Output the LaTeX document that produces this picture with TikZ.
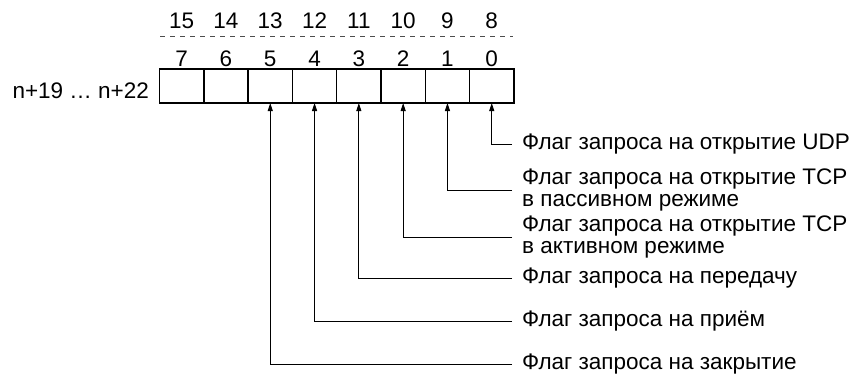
\documentclass[tikz,border=0pt]{standalone}
\usepackage{fontspec}
\setmainfont{Liberation Sans}
\usetikzlibrary{arrows.meta, positioning}

\begin{document}
\begin{tikzpicture}[
  x=1pt, y=-1pt,
  font=\fontsize{22.5}{22}\selectfont,
  cell/.style={draw, line width=1.4pt, minimum width=44.3pt, minimum height=34pt,
               outer sep=0pt, inner sep=0pt},
  bitnum/.style={inner sep=0pt},
  flag/.style={anchor=west, align=left, inner xsep=10pt, inner ysep=0pt},
  arr/.style={-{Triangle[length=8pt, width=5pt]}, line width=1pt},
  sep/.style={dash pattern=on 5pt off 5pt, line width=0.8pt, black!70},
  node distance=0pt
]
\useasboundingbox (0,0) rectangle (855,375);
% register cells, bit 7 on the left
\node[cell] (b7) at (181.65,86) {};
\node[cell, right=of b7] (b6) {};
\node[cell, right=of b6] (b5) {};
\node[cell, right=of b5] (b4) {};
\node[cell, right=of b4] (b3) {};
\node[cell, right=of b3] (b2) {};
\node[cell, right=of b2] (b1) {};
\node[cell, right=of b1] (b0) {};
\node[anchor=base west] (addr) at (9,98) {n+19 … n+22};
% bit numbers
\node[bitnum, above=2pt of b7] (n7) {7};
\node[bitnum, above=2pt of b6] (n6) {6};
\node[bitnum, above=2pt of b5] (n5) {5};
\node[bitnum, above=2pt of b4] (n4) {4};
\node[bitnum, above=2pt of b3] (n3) {3};
\node[bitnum, above=2pt of b2] (n2) {2};
\node[bitnum, above=2pt of b1] (n1) {1};
\node[bitnum, above=2pt of b0] (n0) {0};
\node[bitnum, above=40pt of b7] (n15) {15};
\node[bitnum, above=40pt of b6] (n14) {14};
\node[bitnum, above=40pt of b5] (n13) {13};
\node[bitnum, above=40pt of b4] (n12) {12};
\node[bitnum, above=40pt of b3] (n11) {11};
\node[bitnum, above=40pt of b2] (n10) {10};
\node[bitnum, above=40pt of b1] (n9)  {9};
\node[bitnum, above=40pt of b0] (n8)  {8};
\coordinate (sepL) at (160,36); \coordinate (sepR) at (513,36);
\draw[sep] (sepL) -- (sepR);
% flags
\node[flag] (fudp)  at (512,144) {Флаг запроса на открытие UDP};
\node[flag] (fpass) at (512,190) {Флаг запроса на открытие TCP\\в пассивном режиме};
\node[flag] (fact)  at (512,237) {Флаг запроса на открытие TCP\\в активном режиме};
\node[flag] (fsend) at (512,278) {Флаг запроса на передачу};
\node[flag] (frecv) at (512,321) {Флаг запроса на приём};
\node[flag] (fclose) at (512,364) {Флаг запроса на закрытие};
\draw[arr] (fudp.west) -| (b0.south);   \draw[arr] (fpass.west) -| (b1.south);
\draw[arr] (fact.west) -| (b2.south);   \draw[arr] (fsend.west) -| (b3.south);
\draw[arr] (frecv.west) -| (b4.south);  \draw[arr] (fclose.west) -| (b5.south);
\end{tikzpicture}
\end{document}
